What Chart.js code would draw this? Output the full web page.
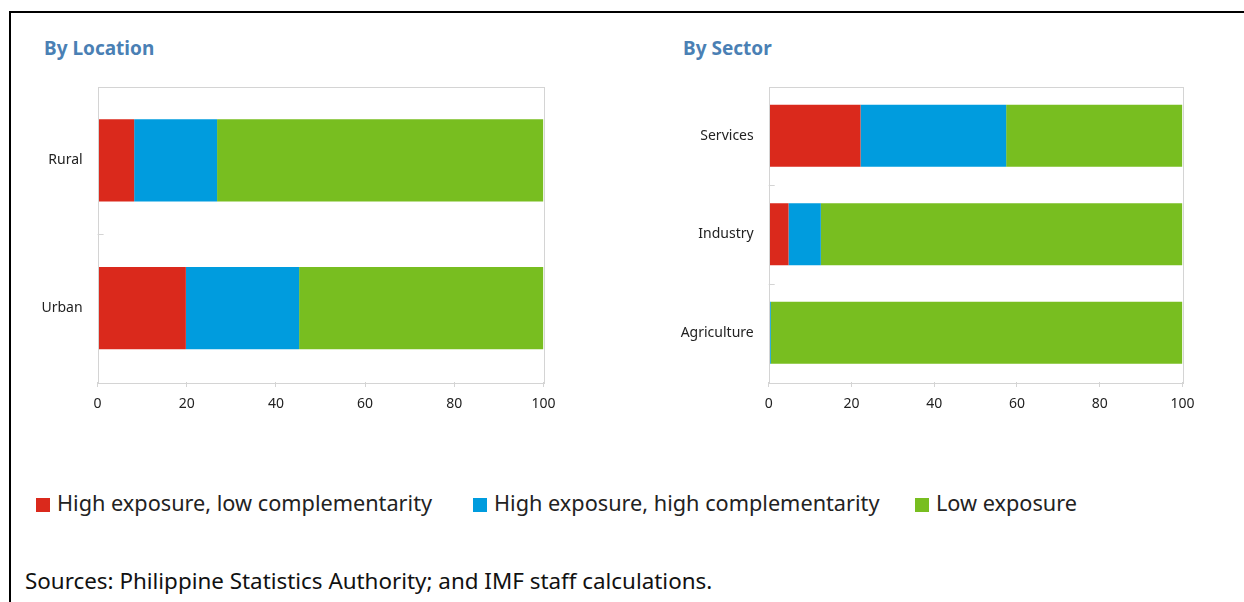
<!DOCTYPE html>
<html>
<head>
<meta charset="utf-8">
<script src="https://cdn.jsdelivr.net/npm/chart.js@4/dist/chart.umd.min.js"></script>
<style>
  html, body { margin: 0; padding: 0; background: #fff; }
  body { width: 1244px; height: 602px; position: relative; overflow: hidden; font-family: "Noto Sans", sans-serif; }
  .frame { position: absolute; left: 9px; top: 11px; right: -10px; bottom: -10px; border-top: 2px solid #000; border-left: 2px solid #000; }
  .title { position: absolute; top: 35px; font-weight: bold; font-size: 19px; color: #4a80b4; white-space: nowrap; }
  canvas { position: absolute; top: 0; }
  .legend { position: absolute; top: 488px; font-size: 21.7px; color: #222; white-space: nowrap; }
  .legend span.sw { display: inline-block; width: 14px; height: 14px; margin-right: 7px; vertical-align: -1px; }
  .source { position: absolute; left: 25px; top: 565px; font-size: 22.4px; color: #111; white-space: nowrap; }
</style>
</head>
<body>
<div class="frame"></div>
<div class="title" style="left:44px">By Location</div>
<div class="title" style="left:683px">By Sector</div>
<canvas id="locationChart" width="620" height="440" style="left:0"></canvas>
<canvas id="sectorChart" width="624" height="440" style="left:620px"></canvas>
<div class="legend" style="left:36px"><span class="sw" style="background:#da291c"></span>High exposure, low complementarity</div>
<div class="legend" style="left:473px"><span class="sw" style="background:#009cde"></span>High exposure, high complementarity</div>
<div class="legend" style="left:915px"><span class="sw" style="background:#78be20"></span>Low exposure</div>
<div class="source">Sources: Philippine Statistics Authority; and IMF staff calculations.</div>
<script>
// data (percent of workers)
const seriesNames = ['High exposure, low complementarity', 'High exposure, high complementarity', 'Low exposure'];
const seriesColors = ['#da291c', '#009cde', '#78be20'];

const locationLabels = ['Rural', 'Urban'];
const locationLowComp = [8.2, 19.8];
const locationHighComp = [18.6, 25.4];
const locationLowExp = [73.2, 54.8];

const sectorLabels = ['Services', 'Industry', 'Agriculture'];
const sectorLowComp = [22.2, 4.8, 0.2];
const sectorHighComp = [35.2, 7.8, 0.3];
const sectorLowExp = [42.6, 87.4, 99.5];

const xTicks = [0, 20, 40, 60, 80, 100];

const gridGrey = '#d4d4d4';

// frame around plot area + small marks between categories
const boxPlugin = {
    id: 'box',
    afterDraw(chart) {
        const ctx = chart.ctx;
        const a = chart.chartArea;
        const y = chart.scales.y;
        ctx.save();
        ctx.strokeStyle = gridGrey;
        ctx.lineWidth = 1;
        ctx.strokeRect(Math.round(a.left) + 0.5, Math.round(a.top) + 0.5, Math.round(a.right - a.left), Math.round(a.bottom - a.top));
        for (let i = 1; i < y.ticks.length; i++) {
            const py = Math.round((y.getPixelForTick(i - 1) + y.getPixelForTick(i)) / 2) + 0.5;
            ctx.beginPath();
            ctx.moveTo(a.left, py);
            ctx.lineTo(a.left + 6, py);
            ctx.stroke();
        }
        ctx.restore();
    }
};

function makeChart(id, labels, lowComp, highComp, lowExp, barPct, area) {
    const values = [lowComp, highComp, lowExp];
    return new Chart(document.getElementById(id), {
        type: 'bar',
        data: {
            labels: labels,
            datasets: values.map((v, i) => ({
                label: seriesNames[i],
                data: v,
                backgroundColor: seriesColors[i],
                borderWidth: 0,
                categoryPercentage: 1,
                barPercentage: barPct
            }))
        },
        options: {
            indexAxis: 'y',
            responsive: false,
            animation: false,
            events: [],
            layout: { padding: { left: 0, top: area.top, right: area.right, bottom: 0 } },
            plugins: { legend: { display: false }, tooltip: { enabled: false } },
            scales: {
                x: {
                    stacked: true,
                    min: 0,
                    max: 100,
                    afterBuildTicks: s => { s.ticks = xTicks.map(v => ({ value: v })); },
                    afterFit: s => { s.height = area.xHeight; },
                    border: { display: false },
                    grid: { drawOnChartArea: false, drawTicks: true, tickLength: 5, color: gridGrey },
                    ticks: { padding: 9, color: '#222', font: { family: 'Noto Sans', size: 14 } }
                },
                y: {
                    stacked: true,
                    afterFit: s => { s.width = area.left; },
                    border: { display: false },
                    grid: { display: false },
                    ticks: { padding: 7, color: '#222', font: { family: 'Noto Sans', size: 14 } }
                }
            }
        },
        plugins: [boxPlugin]
    });
}

makeChart('locationChart', locationLabels, locationLowComp, locationHighComp, locationLowExp, 0.555,
    { left: 97.6, right: 620 - 543.4, top: 86.5, xHeight: 440 - 382 });
makeChart('sectorChart', sectorLabels, sectorLowComp, sectorHighComp, sectorLowExp, 0.63,
    { left: 148.7, right: 624 - 562.4, top: 86.5, xHeight: 440 - 382 });
</script>
</body>
</html>
